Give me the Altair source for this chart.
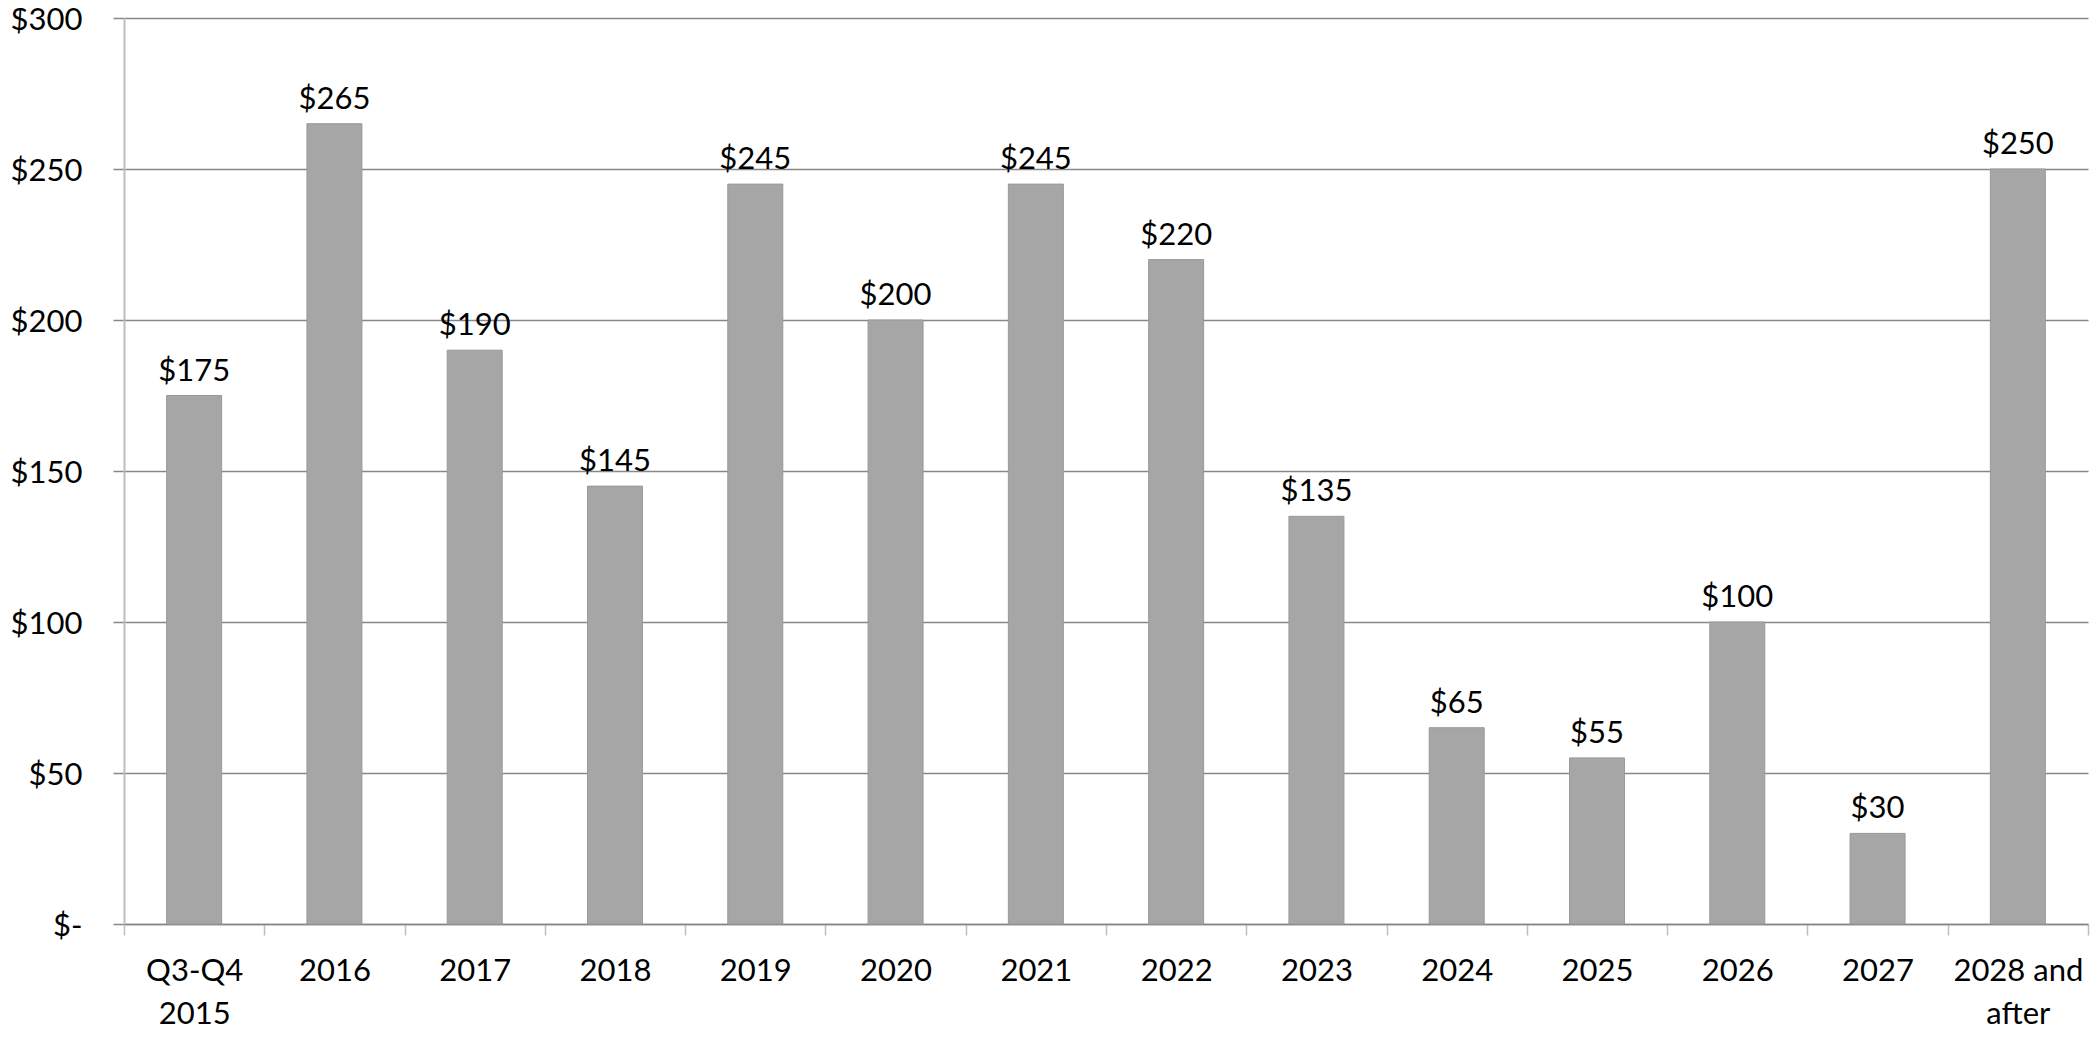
import altair as alt
import pandas as pd

categories = ["Q3-Q4 2015", "2016", "2017", "2018", "2019", "2020", "2021",
              "2022", "2023", "2024", "2025", "2026", "2027", "2028 and after"]
values = [175, 265, 190, 145, 245, 200, 245, 220, 135, 65, 55, 100, 30, 250]
y_ticks = [0, 50, 100, 150, 200, 250, 300]

df = pd.DataFrame({"cat": categories, "val": values})
df["lbl"] = ["$" + str(v) for v in values]

FONT = "Lato"

x = alt.X("cat:N", sort=categories, title=None,
          scale=alt.Scale(paddingInner=0, paddingOuter=0),
          axis=alt.Axis(labelAngle=0, labelFont=FONT, labelFontSize=31, labelColor="#000000",
                        labelExpr="datum.value == 'Q3-Q4 2015' ? ['Q3-Q4', '2015'] : (datum.value == '2028 and after' ? ['2028 and', 'after'] : datum.label)",
                        labelLineHeight=43, labelPadding=21, labelBaseline="top",
                        tickBand="extent", tickSize=11, tickColor="#BEBEBE", tickWidth=1.5,
                        domainColor="#878787", domainWidth=1.5, grid=False, labelOverlap=False))

y = alt.Y("val:Q", title=None,
          scale=alt.Scale(domain=[0, 300], nice=False, zero=True),
          axis=alt.Axis(values=y_ticks, labelExpr="datum.value == 0 ? '$-' : '$' + datum.value",
                        labelFont=FONT, labelFontSize=31, labelColor="#000000", labelPadding=31,
                        labelOffset=2,
                        tickSize=11, tickColor="#878787", tickWidth=1.5,
                        grid=True, gridColor="#878787", gridWidth=1.5,
                        domainColor="#BEBEBE", domainWidth=2))

bars = alt.Chart(df).mark_bar(color="#A6A6A6", stroke="#999999", strokeWidth=1,
                              width=alt.RelativeBandSize(0.392)).encode(x=x, y=y)
text = alt.Chart(df).mark_text(font=FONT, fontSize=31, color="#000000", baseline="alphabetic", dy=-15).encode(
    x=alt.X("cat:N", sort=categories), y="val:Q", text="lbl:N")

chart = (bars + text).properties(
    width=1964, height=906,
    autosize=alt.AutoSizeParams(type="none"),
    padding={"left": 116, "top": 10, "right": 4, "bottom": 108},
).configure_view(stroke=None)

chart.save("out.html", embed_options={"renderer": "svg", "actions": False})
